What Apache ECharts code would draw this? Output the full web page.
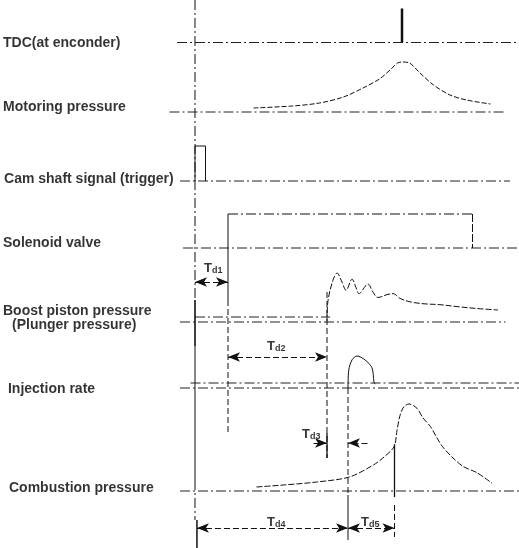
<!DOCTYPE html>
<html>
<head>
<meta charset="utf-8">
<script src="https://cdn.jsdelivr.net/npm/echarts@6/dist/echarts.min.js"></script>
<style>
  html, body { margin: 0; padding: 0; background: #fff; }
  #chart { width: 519px; height: 548px; }
</style>
</head>
<body>
<div id="chart"></div>
<script>
// ---- Signal names (left column) ----
const channelLabels = ['TDC(at enconder)', 'Motoring pressure', 'Cam shaft signal (trigger)', 'Solenoid valve',
  'Boost piston pressure', '(Plunger pressure)', 'Injection rate', 'Combustion pressure'];
const delayLabels = ['d1', 'd2', 'd3', 'd4', 'd5'];

// ---- Event times (time units after the cam-shaft trigger) ----
const tTrigger = 0;
const tCamEnd = 7;
const tSolenoidOn = 22;
const tSolenoidOff = 185;
const tBoostRise = 88;
const tInjStart = 102;
const tCombStart = 133;
const tTDC = 138;

// ---- Traces (amplitude relative to each trace's peak) ----
const motoringTime = [39, 65, 83, 99, 112, 123, 130, 135, 138, 143, 150, 159, 170, 181, 197];
const motoringPressure = [0.08, 0.12, 0.18, 0.30, 0.48, 0.66, 0.84, 0.98, 1.00, 0.98, 0.78, 0.54, 0.34, 0.24, 0.16];

const boostTime = [88, 88.7, 92, 94.7, 98, 100.7, 104.7, 107.3, 109.3, 115.3, 118.7, 122, 128, 132, 136.7, 143.3, 152, 163.3, 174.7, 188, 202];
const boostPressure = [0, 0.43, 0.85, 1.00, 0.81, 0.64, 0.87, 0.70, 0.57, 0.77, 0.60, 0.49, 0.55, 0.57, 0.47, 0.40, 0.36, 0.34, 0.30, 0.26, 0.23];

const injectionTime = [102, 102.5, 104.7, 108, 113.3, 118, 119.3, 120];
const injectionRate = [0, 0.56, 0.88, 1.00, 0.88, 0.63, 0.19, 0.12];

const combustionTime = [41, 59, 81, 103, 119, 125.3, 132.7, 134.7, 136.7, 139.3, 142.7, 148, 152, 157, 161, 165, 172, 179, 188, 198];
const combustionPressure = [0.046, 0.069, 0.103, 0.161, 0.30, 0.38, 0.51, 0.70, 0.87, 0.97, 1.00, 0.95, 0.84, 0.74, 0.62, 0.51, 0.38, 0.28, 0.21, 0.09];

// ---- Layout of the stacked traces (vertical axis runs downward) ----
const lanes = {
  tdc:  { base: 42.5, h: 34 },
  mot:  { base: 112,  h: 50 },
  cam:  { base: 181,  h: 35 },
  sol:  { base: 248,  h: 34 },
  boost:{ base: 321,  h: 48 },
  inj:  { base: 388,  h: 32 },
  comb: { base: 491,  h: 87 }
};
const Y = (lane, amp) => lanes[lane].base - amp * lanes[lane].h;

const INK = '#111';
const FONT = '"Liberation Sans", Arial, sans-serif';
const dashDot = [10, 3, 2, 3];
const dashed = [6, 3];

function seg(points, opts) {
  opts = opts || {};
  return {
    type: 'line', data: points, symbol: 'none', silent: true, animation: false,
    smooth: opts.smooth || false,
    lineStyle: { color: opts.color || INK, width: opts.width || 1, type: opts.type || 'solid' },
    z: opts.z || 2
  };
}

function trace(times, values, lane, opts) {
  return seg(times.map((t, i) => [t, Y(lane, values[i])]), opts);
}

function interp(times, values, t) {
  for (let i = 1; i < times.length; i++) {
    if (t <= times[i]) {
      const f = (t - times[i - 1]) / (times[i] - times[i - 1]);
      return values[i - 1] + f * (values[i] - values[i - 1]);
    }
  }
  return values[values.length - 1];
}

const series = [];

// Zero lines of every trace
const xl = -130, xr = 216;
series.push(seg([[-12, lanes.tdc.base], [xr, lanes.tdc.base]], { type: dashDot, color: '#222' }));
series.push(seg([[-17, lanes.mot.base], [207, lanes.mot.base]], { type: dashDot, color: '#222' }));
series.push(seg([[-10, lanes.cam.base], [210, lanes.cam.base]], { type: dashDot, color: '#222' }));
series.push(seg([[-8, lanes.sol.base], [xr, lanes.sol.base]], { type: dashDot, color: '#222' }));
series.push(seg([[-10, lanes.boost.base + 1], [207, lanes.boost.base + 1]], { type: dashDot, color: '#222' }));
series.push(seg([[tTrigger, lanes.boost.base - 4], [tBoostRise + 2, lanes.boost.base - 4]], { type: dashDot, color: '#222' }));
series.push(seg([[-3, lanes.inj.base - 5], [xr, lanes.inj.base - 5]], { type: dashDot, color: '#222' }));
series.push(seg([[-10, lanes.inj.base], [xr, lanes.inj.base]], { type: dashDot, color: '#222' }));
series.push(seg([[-10, lanes.comb.base], [xr, lanes.comb.base]], { type: dashDot, color: '#222' }));

// Trigger reference line
series.push(seg([[tTrigger, 0], [tTrigger, 300]], { type: dashDot }));
series.push(seg([[tTrigger, 300], [tTrigger, 346]], { width: 1.6 }));
series.push(seg([[tTrigger, 346], [tTrigger, 480]], { width: 1 }));
series.push(seg([[tTrigger, 480], [tTrigger, 520]], { type: dashDot }));
series.push(seg([[tTrigger + 1.3, 520], [tTrigger + 1.3, 548]], { width: 1.5 }));

// TDC pulse
series.push(seg([[tTDC, lanes.tdc.base], [tTDC, Y('tdc', 1)]], { width: 2.5 }));

// Motoring pressure
series.push(trace(motoringTime, motoringPressure, 'mot', { smooth: 0.3, type: [5, 2] }));

// Cam shaft trigger pulse
series.push(seg([[tTrigger, lanes.cam.base], [tTrigger, Y('cam', 1)], [tCamEnd, Y('cam', 1)], [tCamEnd, lanes.cam.base]], {}));

// Solenoid valve command
series.push(seg([[tSolenoidOn, lanes.sol.base], [tSolenoidOn, Y('sol', 1)]], {}));
series.push(seg([[tSolenoidOn, Y('sol', 1)], [tSolenoidOff, Y('sol', 1)]], { type: dashDot }));
series.push(seg([[tSolenoidOff, Y('sol', 1)], [tSolenoidOff, lanes.sol.base]], { type: [8, 2] }));

// Boost piston pressure
series.push(trace(boostTime, boostPressure, 'boost', { smooth: 0.35, type: [6, 2] }));

// Injection rate
series.push(trace(injectionTime, injectionRate, 'inj', { smooth: 0.3 }));

// Combustion pressure
series.push(trace(combustionTime, combustionPressure, 'comb', { smooth: 0.3, type: [6, 2] }));

// Event markers
series.push(seg([[tSolenoidOn, lanes.sol.base], [tSolenoidOn, 300]], {}));
series.push(seg([[tSolenoidOn, 300], [tSolenoidOn, 435]], { type: dashed }));
series.push(seg([[tBoostRise, 292], [tBoostRise, 458]], { type: dashed }));
series.push(seg([[tInjStart, lanes.inj.base], [tInjStart, 495]], { type: dashed }));
series.push(seg([[tInjStart, 495], [tInjStart, 540]], {}));
const combAtStart = Y('comb', interp(combustionTime, combustionPressure, tCombStart));
series.push(seg([[tCombStart, combAtStart], [tCombStart, lanes.comb.base + 6]], { width: 1.3 }));
series.push(seg([[tCombStart, lanes.comb.base + 14], [tCombStart, 537]], { type: dashed }));

// Delay dimension arrows
const yTd1 = 282, yTd2 = 357, yTd3 = 443, yTd45 = 528;
function arrow(a, b, y, sym) {
  return [{ coord: [a, y], symbol: sym[0] }, { coord: [b, y], symbol: sym[1] }];
}
series.push({
  type: 'line', data: [], silent: true, animation: false,
  markLine: {
    silent: true, animation: false,
    symbolSize: [7, 12],
    label: { show: false },
    lineStyle: { color: INK, width: 1, type: dashed },
    data: [
      arrow(tTrigger, tSolenoidOn, yTd1, ['arrow', 'arrow']),
      arrow(tSolenoidOn, tBoostRise, yTd2, ['arrow', 'arrow']),
      arrow(tBoostRise - 9, tBoostRise, yTd3, ['none', 'arrow']),
      arrow(tInjStart + 13, tInjStart, yTd3, ['none', 'arrow']),
      arrow(tTrigger + 1.3, tInjStart, yTd45, ['arrow', 'arrow']),
      arrow(tInjStart, tCombStart, yTd45, ['arrow', 'arrow'])
    ]
  }
});
series.push(seg([[tBoostRise, 433], [tBoostRise, 458]], { width: 1.3 }));

// Signal names
const labelPos = [[-128, 43], [-128, 107], [-127.3, 179], [-128, 243], [-128, 311], [-122, 325], [-124.7, 389], [-124, 488]];
series.push({
  type: 'scatter', symbolSize: 0, silent: true, animation: false, z: 5,
  data: labelPos.map((p, i) => [p[0], p[1], channelLabels[i]]),
  label: {
    show: true, position: 'right', distance: 0,
    formatter: p => p.data[2],
    fontFamily: FONT, fontWeight: 'bold', fontSize: 14, color: '#000'
  }
});

// Delay names (T with subscript)
const delayPos = [[6, 268], [48, 346], [71.3, 434], [48, 522], [110.7, 522]];
series.push({
  type: 'scatter', symbolSize: 0, silent: true, animation: false, z: 5,
  data: delayPos.map((p, i) => [p[0], p[1], delayLabels[i]]),
  label: {
    show: true, position: 'right', distance: 0,
    formatter: p => '{t|T}{s|' + p.data[2] + '}',
    rich: {
      t: { fontFamily: FONT, fontWeight: 'bold', fontSize: 13, color: '#000' },
      s: { fontFamily: FONT, fontWeight: 'bold', fontSize: 9, color: '#000', padding: [6, 0, 0, 0] }
    }
  }
});

const chart = echarts.init(document.getElementById('chart'), null, { renderer: 'canvas' });
chart.setOption({
  animation: false,
  backgroundColor: '#fff',
  grid: { left: 0, right: 0, top: 0, bottom: 0 },
  xAxis: { type: 'value', min: xl, max: xr, show: false },
  yAxis: { type: 'value', min: 0, max: 548, inverse: true, show: false },
  series: series
});
</script>
</body>
</html>
